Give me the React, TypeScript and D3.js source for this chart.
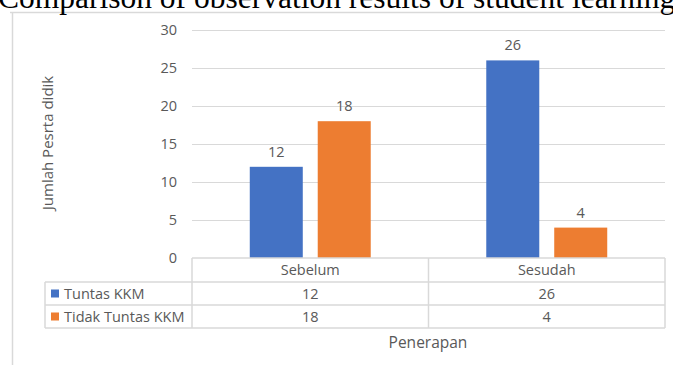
import React from "react";
import * as d3 from "d3";

const categories = ["Sebelum", "Sesudah"];
const seriesNames = ["Tuntas KKM", "Tidak Tuntas KKM"];
const tuntas = [12, 26];
const tidakTuntas = [18, 4];
const yTicks = [0, 5, 10, 15, 20, 25, 30];
const title = "Comparison of observation results of student learning";
const yTitle = "Jumlah Pesrta didik";
const xTitle = "Penerapan";

const colors = ["#4472C4", "#ED7D31"];
const textColor = "#595959";
const gridColor = "#d9d9d9";
const font = "'Open Sans', 'DejaVu Sans', sans-serif";
const fs = 14.5;

export default function App() {
  const W = 673, H = 365;
  const values = [tuntas, tidakTuntas];
  const x0 = d3.scaleBand<string>().domain(categories).range([192, 665]);
  const x1 = d3
    .scaleBand<string>()
    .domain(seriesNames)
    .range([0, x0.bandwidth()])
    .paddingInner(0.22)
    .paddingOuter(0.85);
  const y = d3.scaleLinear().domain([0, 30]).range([258, 30]);
  const rowTop = [258, 282, 305, 328];
  const tableLeft = 45;

  return (
    <div style={{ position: "absolute", left: 0, top: 0 }}>
      <svg width={W} height={H} style={{ display: "block", background: "#fff" }}>
        {/* chart border */}
        <line x1={10} x2={W} y1={12.5} y2={12.5} stroke={gridColor} strokeWidth={1.5} />
        <line x1={12.5} x2={12.5} y1={12} y2={H} stroke={gridColor} strokeWidth={1.5} />
        <text x={-2} y={8} fontFamily="'Liberation Serif', 'Times New Roman', serif" fontSize={31.5} fill="#000">
          {title}
        </text>
        {/* gridlines */}
        {yTicks.map((t) => (
          <g key={t}>
            {t > 0 && (
              <line x1={192} x2={665} y1={y(t) + 0.5} y2={y(t) + 0.5} stroke={gridColor} strokeWidth={1} />
            )}
            <text x={177} y={y(t)} dy="0.35em" textAnchor="end" fontFamily={font} fontSize={fs} fill={textColor}>
              {t}
            </text>
          </g>
        ))}
        {/* bars */}
        {categories.map((c, ci) =>
          seriesNames.map((s, si) => {
            const v = values[si][ci];
            const bx = (x0(c) as number) + (x1(s) as number);
            return (
              <g key={c + s}>
                <rect x={bx} y={y(v)} width={x1.bandwidth()} height={y(0) - y(v)} fill={colors[si]} />
                <text
                  x={bx + x1.bandwidth() / 2}
                  y={y(v) - 10}
                  textAnchor="middle"
                  fontFamily={font}
                  fontSize={fs}
                  fill={textColor}
                >
                  {v}
                </text>
              </g>
            );
          })
        )}
        {/* data table */}
        <g stroke={gridColor} strokeWidth={1.5} fill="none">
          <line x1={192} x2={665} y1={rowTop[0]} y2={rowTop[0]} />
          <line x1={tableLeft} x2={665} y1={rowTop[1]} y2={rowTop[1]} />
          <line x1={tableLeft} x2={665} y1={rowTop[2]} y2={rowTop[2]} />
          <line x1={tableLeft} x2={665} y1={rowTop[3]} y2={rowTop[3]} />
          <line x1={tableLeft} x2={tableLeft} y1={rowTop[1]} y2={rowTop[3]} />
          <line x1={192} x2={192} y1={rowTop[0]} y2={rowTop[3]} />
          <line x1={x0(categories[1]) as number} x2={x0(categories[1]) as number} y1={rowTop[0]} y2={rowTop[3]} />
          <line x1={665} x2={665} y1={rowTop[0]} y2={rowTop[3]} />
        </g>
        {categories.map((c, ci) => (
          <g key={c}>
            <text
              x={(x0(c) as number) + x0.bandwidth() / 2}
              y={(rowTop[0] + rowTop[1]) / 2}
              dy="0.35em"
              textAnchor="middle"
              fontFamily={font}
              fontSize={fs}
              fill={textColor}
            >
              {c}
            </text>
            {seriesNames.map((s, si) => (
              <text
                key={s}
                x={(x0(c) as number) + x0.bandwidth() / 2}
                y={(rowTop[si + 1] + rowTop[si + 2]) / 2}
                dy="0.35em"
                textAnchor="middle"
                fontFamily={font}
                fontSize={fs}
                fill={textColor}
              >
                {values[si][ci]}
              </text>
            ))}
          </g>
        ))}
        {seriesNames.map((s, si) => (
          <g key={s}>
            <rect x={51} y={(rowTop[si + 1] + rowTop[si + 2]) / 2 - 4} width={8} height={8} fill={colors[si]} />
            <text
              x={64}
              y={(rowTop[si + 1] + rowTop[si + 2]) / 2}
              dy="0.35em"
              fontFamily={font}
              fontSize={fs}
              fill={textColor}
            >
              {s}
            </text>
          </g>
        ))}
        <text x={428} y={343} dy="0.35em" textAnchor="middle" fontFamily={font} fontSize={15.5} fill={textColor}>
          {xTitle}
        </text>
        <text
          transform={`translate(48,143) rotate(-90)`}
          textAnchor="middle"
          dy="0.35em"
          fontFamily={font}
          fontSize={15}
          fill={textColor}
        >
          {yTitle}
        </text>
      </svg>
    </div>
  );
}
